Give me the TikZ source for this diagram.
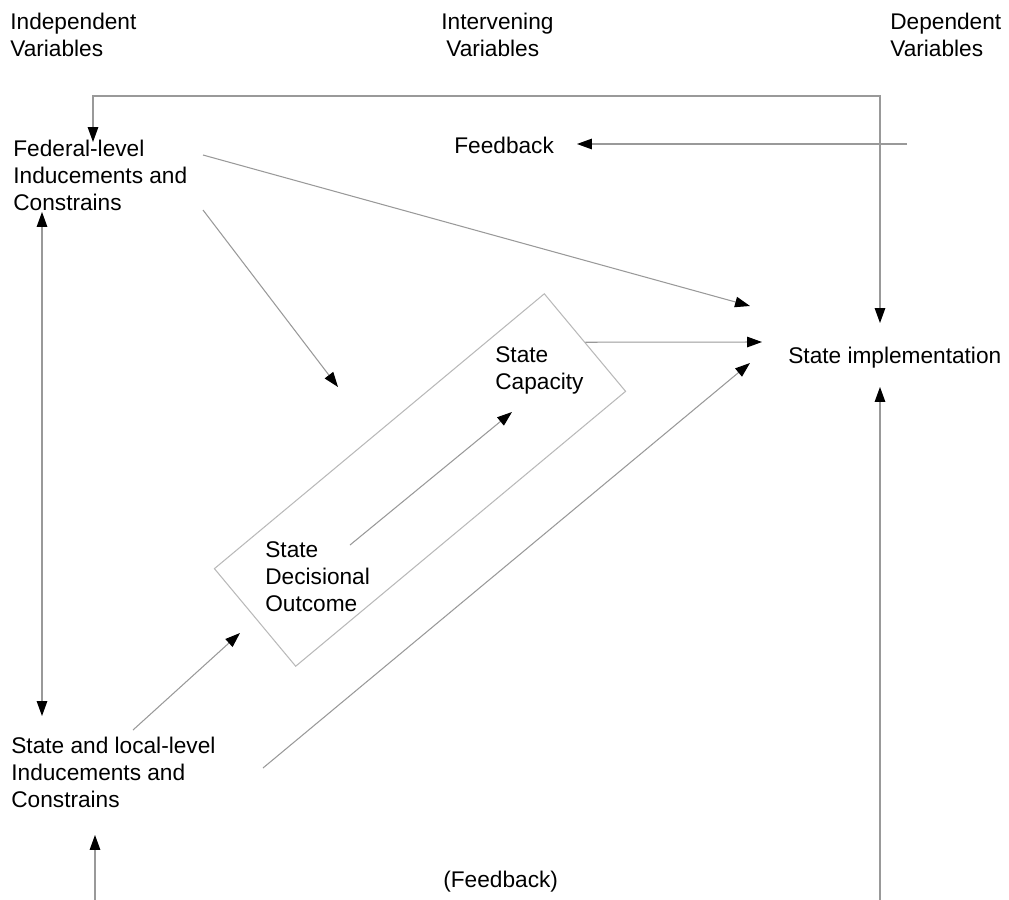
\documentclass[tikz,border=0pt]{standalone}
\usepackage{fontspec}
\setmainfont{Liberation Sans}
\usetikzlibrary{arrows.meta}
\tikzstyle{txt} = [anchor=base west, inner sep=0pt, align=left]
\tikzstyle{frame} = [draw=gray!55, line width=0.6pt, rotate=39.8, minimum width=8.59cm, minimum height=2.54cm, inner sep=0pt]
\tikzstyle{arrow} = [draw=gray!80, line width=0.6pt, ->]

\begin{document}
\begin{tikzpicture}[x=0.02cm, y=-0.02cm, >={Triangle[length=8.5pt,width=6pt,color=black]}, every node/.style={font=\fontsize{12.9}{15.3}\selectfont}]
    \useasboundingbox (0,0) rectangle (1009,900);
    % column heads
    \node (indep) [txt] at (10,56) {Independent\\Variables};
    \node (interv) [txt] at (441,56) {Intervening\\\hspace{0.1cm}Variables};
    \node (dep) [txt] at (890,56) {Dependent\\Variables};

    \node (federal) [txt] at (13,210) {Federal-level\\Inducements and\\Constrains};
    \node (feedback) [txt] at (454,153) {Feedback};
    \node (band) [frame] at (420,480) {};
    \node (capacity) [txt] at (495,389) {State\\Capacity};
    \node (decisional) [txt] at (265,611) {State\\Decisional\\Outcome};
    \node (impl) [txt] at (788,363) {State implementation};
    \node (statelocal) [txt] at (11,807) {State and local-level\\Inducements and\\Constrains};
    \node (fbbottom) [txt] at (443,887) {(Feedback)};

    \draw [arrow, <->] ([shift={(80,-68)}]federal.base west) -- ++(0,-46) -| ([shift={(92,-40)}]impl.base west);
    \draw [arrow] ([shift={(453,-9)}]feedback.base west) -- ([shift={(123,-9)}]feedback.base west);
    \draw [arrow] ([shift={(190,-55)}]federal.base west) -- ([shift={(-38,-57)}]impl.base west);
    \draw [arrow] ([shift={(190,0)}]federal.base west) -- ([shift={(-82,-93)}]band.center);
    \draw [arrow] (band.east) -- ([shift={(-26,-21)}]impl.base west);
    \draw [arrow] ([shift={(85,-66)}]decisional.base west) -- ([shift={(17,23)}]capacity.base west);
    \draw [arrow] ([shift={(122,-77)}]statelocal.base west) -- ([shift={(-180,153)}]band.center);
    \draw [arrow] ([shift={(252,-39)}]statelocal.base west) -- ([shift={(-38,0)}]impl.base west);
    \draw [arrow, <->] ([shift={(29,2)}]federal.base west) -- ([shift={(31,-91)}]statelocal.base west);
    \draw [arrow] ([shift={(84,93)}]statelocal.base west) -- ([shift={(84,28)}]statelocal.base west);
    \draw [arrow] ([shift={(92,537)}]impl.base west) -- ([shift={(92,24)}]impl.base west);
\end{tikzpicture}
\end{document}
